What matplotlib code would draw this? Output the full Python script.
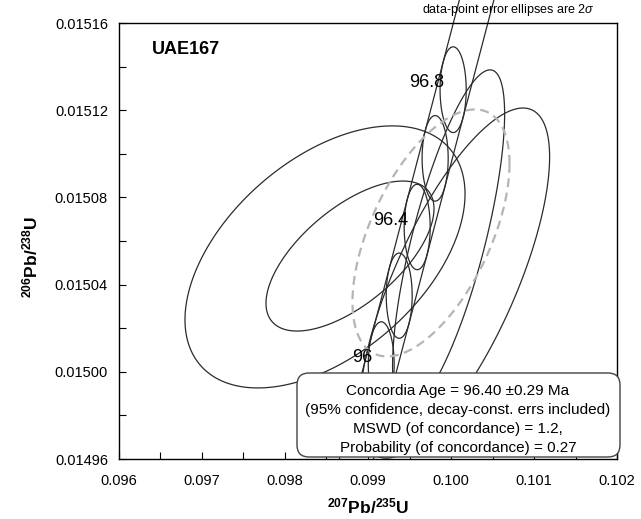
import numpy as np
import matplotlib
matplotlib.use("Agg")
import matplotlib.pyplot as plt
from matplotlib.patches import FancyBboxPatch, Polygon
from matplotlib.ticker import MultipleLocator, FormatStrFormatter

plt.rcParams['font.family'] = ['Liberation Sans', 'DejaVu Sans']
plt.rcParams['mathtext.fontset'] = 'custom'
plt.rcParams['mathtext.rm'] = 'Liberation Sans:bold'
plt.rcParams['mathtext.it'] = 'Liberation Sans:italic'
plt.rcParams['mathtext.bf'] = 'Liberation Sans:bold'

# ---------------- data ----------------
sample_name = "UAE167"
# data-point ellipses: 207Pb/235U, 206Pb/238U, 2-sigma errors, error correlation
x207 = [0.098482, 0.098783, 0.100043, 0.099971]
y206 = [0.0150527, 0.0150531, 0.0150407, 0.0150605]
x_err = [0.001687, 0.001012, 0.001145, 0.000675]
y_err = [0.0000601, 0.0000344, 0.0000803, 0.0000780]
rho = [0.48, 0.63, 0.72, 0.74]

# concordia age ellipse (2 sigma)
conc_x, conc_y, conc_sx, conc_sy, conc_rho = 0.099759, 0.0150637, 0.000946, 0.00005665, 0.56

# concordia ages marked (Ma) and labelled
age_marks = [96.0, 96.2, 96.4, 96.6, 96.8]
age_labels = [96.0, 96.4, 96.8]
LAMBDA_235 = 9.8485e-10
LAMBDA_238 = 1.55125e-10
lam235_rel_err = 0.00150
lam238_rel_err = 0.00129

xticks = [0.096, 0.097, 0.098, 0.099, 0.100, 0.101, 0.102]
yticks = [0.01496, 0.01500, 0.01504, 0.01508, 0.01512, 0.01516]
box_lines = ["Concordia Age = 96.40 \u00b10.29 Ma",
             "(95% confidence, decay-const. errs included)",
             "MSWD (of concordance) = 1.2,",
             "Probability (of concordance) = 0.27"]


def ellipse_xy(cx, cy, sx, sy, r, n=400):
    t = np.linspace(0, 2*np.pi, n, endpoint=False)
    return cx + sx*np.cos(t), cy + sy*(r*np.cos(t) + np.sqrt(1-r*r)*np.sin(t))


def draw_ellipse(ax, cx, cy, sx, sy, r, **kw):
    ex, ey = ellipse_xy(cx, cy, sx, sy, r)
    ax.add_patch(Polygon(np.column_stack([ex, ey]), closed=True, fill=False, **kw))


fig = plt.figure(figsize=(6.41, 5.19), dpi=100)
W, H = 641.0, 519.0
ax = fig.add_axes([119/W, 1-459/H, (617-119)/W, (459-23)/H])
ax.set_xlim(0.096, 0.102)
ax.set_ylim(0.01496, 0.01516)

line_col = '#2b2b2b'
for cx, cy, sx, sy, r in zip(x207, y206, x_err, y_err, rho):
    draw_ellipse(ax, cx, cy, sx, sy, r, edgecolor=line_col, lw=0.9, zorder=2)

draw_ellipse(ax, conc_x, conc_y, conc_sx, conc_sy, conc_rho, edgecolor='#b5b5b5',
             lw=1.6, ls=(0, (4, 2.5)), zorder=3)

# concordia band (envelope of decay-constant age ellipses)
tt = np.linspace(95.5e6, 97.3e6, 600)
X = np.exp(LAMBDA_235*tt) - 1
Y = np.exp(LAMBDA_238*tt) - 1
dX = LAMBDA_235*np.exp(LAMBDA_235*tt)
dY = LAMBDA_238*np.exp(LAMBDA_238*tt)
A = (1+X)*LAMBDA_235*tt*lam235_rel_err
B = (1+Y)*LAMBDA_238*tt*lam238_rel_err
nx, ny = dY, -dX
den = np.sqrt(A**2*nx**2 + B**2*ny**2)
px, py = A**2*nx/den, B**2*ny/den
for s in (1, -1):
    bx, by = X + s*px, Y + s*py
    m = (by >= 0.01496) & (by <= 0.015171)
    ax.plot(bx[m], by[m], color=line_col, lw=0.9, zorder=2, clip_on=False)

for age in age_marks:
    t = age*1e6
    cx = np.exp(LAMBDA_235*t) - 1
    cy = np.exp(LAMBDA_238*t) - 1
    a = (1+cx)*LAMBDA_235*t*lam235_rel_err
    b = (1+cy)*LAMBDA_238*t*lam238_rel_err
    draw_ellipse(ax, cx, cy, a, b, 0.0, edgecolor=line_col, lw=0.9, zorder=2)

for age in age_labels:
    t = age*1e6
    cx = np.exp(LAMBDA_235*t) - 1
    cy = np.exp(LAMBDA_238*t) - 1
    ax.annotate('%g' % age, (cx, cy), xytext=(-6.5, 5), textcoords='offset points',
                ha='right', va='center', fontsize=13, zorder=4)

ax.text((152-119)/498, 1-(50-23)/436, sample_name, transform=ax.transAxes, fontsize=13,
        fontweight='bold', ha='left', va='center')

ax.set_xticks(xticks)
ax.set_yticks(yticks)
ax.xaxis.set_minor_locator(MultipleLocator(0.0005))
ax.yaxis.set_minor_locator(MultipleLocator(0.00002))
ax.xaxis.set_major_formatter(FormatStrFormatter('%.3f'))
ax.yaxis.set_major_formatter(FormatStrFormatter('%.5f'))
ax.tick_params(which='both', direction='in', length=5, width=0.8, top=False, right=False)
ax.tick_params(axis='x', which='major', labelsize=10.5, pad=11)
ax.tick_params(axis='y', which='major', labelsize=10.5, pad=8)
for sp in ax.spines.values():
    sp.set_linewidth(1.0)

# results box
box = FancyBboxPatch((2.97, 0.62), 3.23, 0.84, boxstyle='round,pad=0,rounding_size=0.12',
                     transform=fig.dpi_scale_trans, facecolor='white', edgecolor='#444444',
                     lw=1.0, zorder=5, clip_on=False)
ax.add_patch(box)
for i, s in enumerate(box_lines):
    fig.text(458/W, 1-(391+19*i)/H, s, ha='center', va='center', fontsize=11, zorder=6)

fig.text(595/W, 1-10/H, r'data-point error ellipses are 2$\sigma$', ha='right', va='center',
         fontsize=9)
fig.text(368/W, 1-506/H, r'$^{207}$Pb/$^{235}$U', ha='center', va='center', fontsize=12.5,
         fontweight='bold')
fig.text(30/W, 1-257/H, r'$^{206}$Pb/$^{238}$U', ha='center', va='center', fontsize=12.5,
         fontweight='bold', rotation=90)

fig.savefig('out.png', dpi=100)
